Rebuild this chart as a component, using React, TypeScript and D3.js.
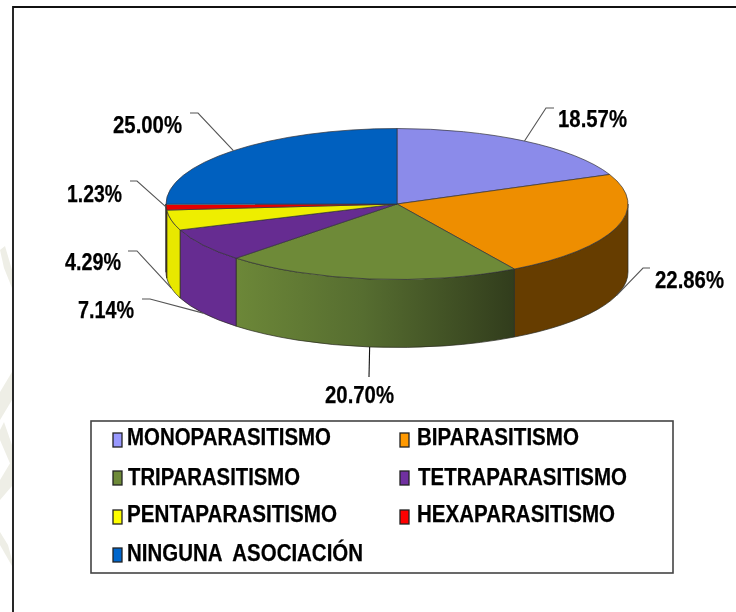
import React from "react";
import * as d3 from "d3";

// ---- data ----
const categories = ["MONOPARASITISMO", "BIPARASITISMO", "TRIPARASITISMO", "TETRAPARASITISMO", "PENTAPARASITISMO", "HEXAPARASITISMO", "NINGUNA  ASOCIACIÓN"];
const values = [18.57, 22.86, 20.7, 7.14, 4.29, 1.23, 25.0];
const valueLabels = ["18.57%", "22.86%", "20.70%", "7.14%", "4.29%", "1.23%", "25.00%"];
const topColors = ["#8b8bea", "#ee8e00", "#6e8a38", "#662c91", "#eeee00", "#e60000", "#0060bf"];
const wallColors = ["#5a5a99", "#663d00", "url(#triWall)", "#662c91", "#e8e800", "#d04030", "#003f80"];
const legendColors = ["#9999ff", "#ff9900", "#6e8a38", "#7030a0", "#ffff00", "#ff0000", "#0066cc"];

// ---- layout (not data) ----
const W = 736, H = 612;
const cx = 397, cy = 204, rx = 231, ry = 75.5, depth = 68;
const labelX = [558, 655, 325, 78, 65, 67, 113];
const labelY = [127, 288, 403, 318, 270, 202, 133];
const labelW = [69, 69, 69, 56, 56, 55, 69];
const leaderEnd: [number, number][] = [[554, 108], [650, 268], [369, 377], [142, 299], [128, 251], [130, 181], [190, 113]];
const leaderElbow: ([number, number] | null)[] = [[546, 108], [643, 268], null, [150, 299], [137, 251], [137, 181], [198, 113]];
const legendTextX = [127, 417, 128, 418, 127, 417, 127];
const legendBase = [445, 445, 485, 485, 522, 522, 561];
const legendWidth = [204, 162, 172, 209, 210, 198, 236];
const swatchX = [113, 400];
const swatchY = [433, 433, 471, 471, 510, 510, 548];

const pie = d3.pie<number>().sort(null).value((d) => d);
const arcs = pie(values);

const px = d3.scaleLinear().domain([-1, 1]).range([cx - rx, cx + rx]);
const py = d3.scaleLinear().domain([-1, 1]).range([cy - ry, cy + ry]);
const pt = (a: number, dz = 0): [number, number] => [px(Math.sin(a)), py(-Math.cos(a)) + dz];

function topPath(a0: number, a1: number) {
  const [x0, y0] = pt(a0);
  const [x1, y1] = pt(a1);
  const large = a1 - a0 > Math.PI ? 1 : 0;
  return `M${cx},${cy}L${x0},${y0}A${rx},${ry} 0 ${large} 1 ${x1},${y1}Z`;
}

function wallPath(a0: number, a1: number) {
  const lo = Math.max(a0, Math.PI / 2);
  const hi = Math.min(a1, (3 * Math.PI) / 2);
  if (hi <= lo) return null;
  const [x0, y0] = pt(lo);
  const [x1, y1] = pt(hi);
  return `M${x0},${y0}A${rx},${ry} 0 0 1 ${x1},${y1}L${x1},${y1 + depth}A${rx},${ry} 0 0 0 ${x0},${y0 + depth}Z`;
}

const FONT = "'Liberation Sans', Arial, sans-serif";

export default function App() {
  return (
    <svg
      width={W}
      height={H}
      viewBox={`0 0 ${W} ${H}`}
      style={{ position: "absolute", left: 0, top: 0, background: "#fff" }}
    >
      <defs>
        <linearGradient id="triWall" gradientUnits="userSpaceOnUse" x1={238} x2={516} y1={0} y2={0}>
          <stop offset="0" stopColor="#6c8738" />
          <stop offset="0.45" stopColor="#566d30" />
          <stop offset="1" stopColor="#313c1c" />
        </linearGradient>
        <filter id="soft" x="-5%" y="-20%" width="110%" height="140%">
          <feGaussianBlur stdDeviation="0.35" />
        </filter>
      </defs>

      {/* faint watermark in the left margin */}
      <g fill="#eeeee6">
        <polygon points="0,250 5,246 12,270 12,288 4,268" />
        <polygon points="0,392 12,372 12,400 0,420" />
        <polygon points="0,430 4,422 12,445 12,468 0,440" />
        <polygon points="0,480 12,460 12,486 0,500" />
        <polygon points="0,532 8,545 12,560 12,566 0,545" />
      </g>

      {/* frame */}
      <path d="M13,612V7H736" fill="none" stroke="#111" strokeWidth={1.8} />

      {/* walls */}
      <g stroke="#2a2a20" strokeWidth={0.7}>
        {arcs.map((a, i) => {
          const d = wallPath(a.startAngle, a.endAngle);
          return d ? <path key={i} d={d} fill={wallColors[i]} /> : null;
        })}
      </g>
      {/* top */}
      <g stroke="#33333a" strokeWidth={0.7} strokeLinejoin="round">
        {arcs.map((a, i) => (
          <path key={i} d={topPath(a.startAngle, a.endAngle)} fill={topColors[i]} />
        ))}
      </g>

      {/* leader lines */}
      <g fill="none" strokeWidth={1.1}>
        {arcs.map((a, i) => {
          const mid = (a.startAngle + a.endAngle) / 2;
          const bottomRim = mid > Math.PI / 2 && mid < (262 / 180) * Math.PI + 0.02;
          const start = pt(mid, bottomRim ? depth : 0);
          const pts = [start, leaderElbow[i], leaderEnd[i]].filter(Boolean) as [number, number][];
          return <path key={i} d={d3.line()(pts) ?? ""} stroke={i === 2 ? "#111" : "#555"} />;
        })}
      </g>

      {/* value labels */}
      <g fontFamily={FONT} fontWeight="bold" fontSize={24} fill="#000" stroke="#000" strokeWidth={0.25} filter="url(#soft)">
        {valueLabels.map((t, i) => (
          <text key={i} x={labelX[i]} y={labelY[i]} textLength={labelW[i]} lengthAdjust="spacingAndGlyphs">
            {t}
          </text>
        ))}
      </g>

      {/* legend */}
      <rect x={91} y={421} width={582} height={152} fill="#fff" stroke="#444" strokeWidth={1.6} />
      <g stroke="#222" strokeWidth={1.3}>
        {categories.map((_, i) => (
          <rect key={i} x={swatchX[i % 2]} y={swatchY[i]} width={9} height={14} fill={legendColors[i]} />
        ))}
      </g>
      <g fontFamily={FONT} fontWeight="bold" fontSize={23} fill="#000" stroke="#000" strokeWidth={0.25} filter="url(#soft)">
        {categories.map((c, i) => (
          <text
            key={i}
            x={legendTextX[i]}
            y={legendBase[i]}
            textLength={legendWidth[i]}
            lengthAdjust="spacingAndGlyphs"
            xmlSpace="preserve"
            style={{ whiteSpace: "pre" }}
          >
            {c}
          </text>
        ))}
      </g>
    </svg>
  );
}
